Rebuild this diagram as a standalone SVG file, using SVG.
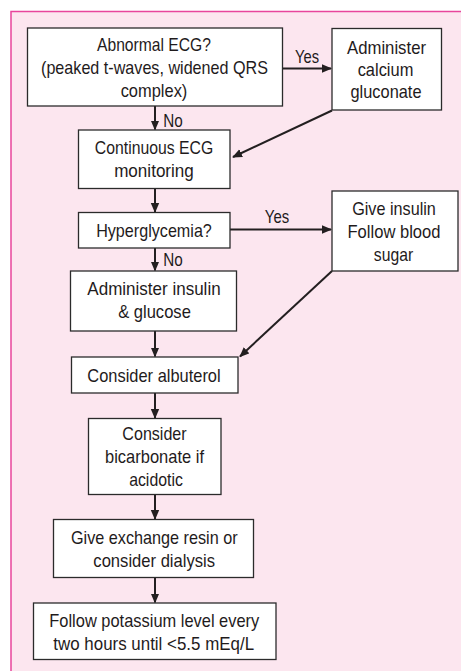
<svg xmlns="http://www.w3.org/2000/svg" width="461" height="671" viewBox="0 0 461 671">
  <style>
    .box { fill: #ffffff; stroke: #2b2b2b; stroke-width: 1.3; }
    .lbl { font-family: "Liberation Sans Narrow", "Liberation Sans", Arial, sans-serif; font-size: 19px; fill: #1f1b1c; text-anchor: middle; }
    .edge { fill: none; stroke: #231f20; stroke-width: 2; }
  </style>
  <defs>
    <marker id="head" markerUnits="userSpaceOnUse" markerWidth="10" markerHeight="10" viewBox="0 0 10 10" refX="9" refY="5" orient="auto">
      <path d="M0,0.8 L10,5 L0,9.2 Z" fill="#231f20"/>
    </marker>
  </defs>

  <!-- background panel -->
  <rect x="0" y="0" width="461" height="671" fill="#ffffff"/>
  <rect x="11" y="11.5" width="460" height="670" fill="#fce6ef" stroke="#e8459c" stroke-width="1.5"/>

  <!-- connectors -->
  <g id="connectors">
    <line class="edge" x1="283" y1="68.5" x2="331" y2="68.5" marker-end="url(#head)"/>
    <line class="edge" x1="155" y1="106" x2="155" y2="129.5" marker-end="url(#head)"/>
    <line class="edge" x1="332" y1="110.5" x2="233" y2="157" marker-end="url(#head)"/>
    <line class="edge" x1="155" y1="188.5" x2="155" y2="212" marker-end="url(#head)"/>
    <line class="edge" x1="230" y1="229.5" x2="331" y2="229.5" marker-end="url(#head)"/>
    <line class="edge" x1="155" y1="248" x2="155" y2="270.5" marker-end="url(#head)"/>
    <line class="edge" x1="332" y1="271" x2="240" y2="356.5" marker-end="url(#head)"/>
    <line class="edge" x1="155" y1="331" x2="155" y2="356.5" marker-end="url(#head)"/>
    <line class="edge" x1="155" y1="393" x2="155" y2="418" marker-end="url(#head)"/>
    <line class="edge" x1="155" y1="494.5" x2="155" y2="519" marker-end="url(#head)"/>
    <line class="edge" x1="155" y1="577.5" x2="155" y2="602.5" marker-end="url(#head)"/>
    <text class="lbl" x="307" y="63" textLength="24" lengthAdjust="spacingAndGlyphs">Yes</text>
    <text class="lbl" x="173" y="127" textLength="19.5" lengthAdjust="spacingAndGlyphs">No</text>
    <text class="lbl" x="277" y="222.5" textLength="24.3" lengthAdjust="spacingAndGlyphs">Yes</text>
    <text class="lbl" x="173" y="266" textLength="19.5" lengthAdjust="spacingAndGlyphs">No</text>
  </g>

  <!-- nodes -->
  <g id="abnormal-ecg">
    <rect class="box" x="27.5" y="28" width="255" height="78"/>
    <text class="lbl" x="154" y="51.3" textLength="114" lengthAdjust="spacingAndGlyphs">Abnormal ECG?</text>
    <text class="lbl" x="154.5" y="74" textLength="227" lengthAdjust="spacingAndGlyphs">(peaked t-waves, widened QRS</text>
    <text class="lbl" x="154" y="96.5" textLength="66.7" lengthAdjust="spacingAndGlyphs">complex)</text>
  </g>

  <g id="calcium-gluconate">
    <rect class="box" x="332" y="28.5" width="109.5" height="81.5"/>
    <text class="lbl" x="386.5" y="53.5" textLength="79" lengthAdjust="spacingAndGlyphs">Administer</text>
    <text class="lbl" x="385.5" y="75.5" textLength="55.7" lengthAdjust="spacingAndGlyphs">calcium</text>
    <text class="lbl" x="386" y="98" textLength="71" lengthAdjust="spacingAndGlyphs">gluconate</text>
  </g>

  <g id="ecg-monitoring">
    <rect class="box" x="78.5" y="130" width="151.5" height="58.5"/>
    <text class="lbl" x="154" y="154" textLength="118.3" lengthAdjust="spacingAndGlyphs">Continuous ECG</text>
    <text class="lbl" x="154" y="176.5" textLength="79.7" lengthAdjust="spacingAndGlyphs">monitoring</text>
  </g>

  <g id="hyperglycemia">
    <rect class="box" x="78.5" y="212.5" width="151.5" height="35.5"/>
    <text class="lbl" x="154" y="237.2" textLength="115.7" lengthAdjust="spacingAndGlyphs">Hyperglycemia?</text>
  </g>

  <g id="give-insulin">
    <rect class="box" x="332" y="191" width="126" height="80"/>
    <text class="lbl" x="394" y="214.8" textLength="83.7" lengthAdjust="spacingAndGlyphs">Give insulin</text>
    <text class="lbl" x="394" y="238" textLength="93" lengthAdjust="spacingAndGlyphs">Follow blood</text>
    <text class="lbl" x="393.5" y="260.8" textLength="39.3" lengthAdjust="spacingAndGlyphs">sugar</text>
  </g>

  <g id="insulin-glucose">
    <rect class="box" x="70.5" y="271" width="166" height="60"/>
    <text class="lbl" x="154" y="294.8" textLength="133.3" lengthAdjust="spacingAndGlyphs">Administer insulin</text>
    <text class="lbl" x="154.5" y="317.5" textLength="72.7" lengthAdjust="spacingAndGlyphs">&amp; glucose</text>
  </g>

  <g id="albuterol">
    <rect class="box" x="71.5" y="357" width="166.5" height="36"/>
    <text class="lbl" x="154" y="381.5" textLength="133.3" lengthAdjust="spacingAndGlyphs">Consider albuterol</text>
  </g>

  <g id="bicarbonate">
    <rect class="box" x="88.5" y="418.5" width="132.5" height="76"/>
    <text class="lbl" x="154.5" y="440" textLength="64.3" lengthAdjust="spacingAndGlyphs">Consider</text>
    <text class="lbl" x="154.5" y="463" textLength="99" lengthAdjust="spacingAndGlyphs">bicarbonate if</text>
    <text class="lbl" x="156" y="485.8" textLength="53.7" lengthAdjust="spacingAndGlyphs">acidotic</text>
  </g>

  <g id="exchange-resin">
    <rect class="box" x="53.5" y="519.5" width="200" height="58"/>
    <text class="lbl" x="154.3" y="543.8" textLength="166.7" lengthAdjust="spacingAndGlyphs">Give exchange resin or</text>
    <text class="lbl" x="154.2" y="566.5" textLength="121.7" lengthAdjust="spacingAndGlyphs">consider dialysis</text>
  </g>

  <g id="potassium-level">
    <rect class="box" x="33.5" y="603" width="242.5" height="56.5"/>
    <text class="lbl" x="154.3" y="626.8" textLength="210" lengthAdjust="spacingAndGlyphs">Follow potassium level every</text>
    <text class="lbl" x="153.7" y="649.8" textLength="200.7" lengthAdjust="spacingAndGlyphs">two hours until &lt;5.5 mEq/L</text>
  </g>
</svg>
